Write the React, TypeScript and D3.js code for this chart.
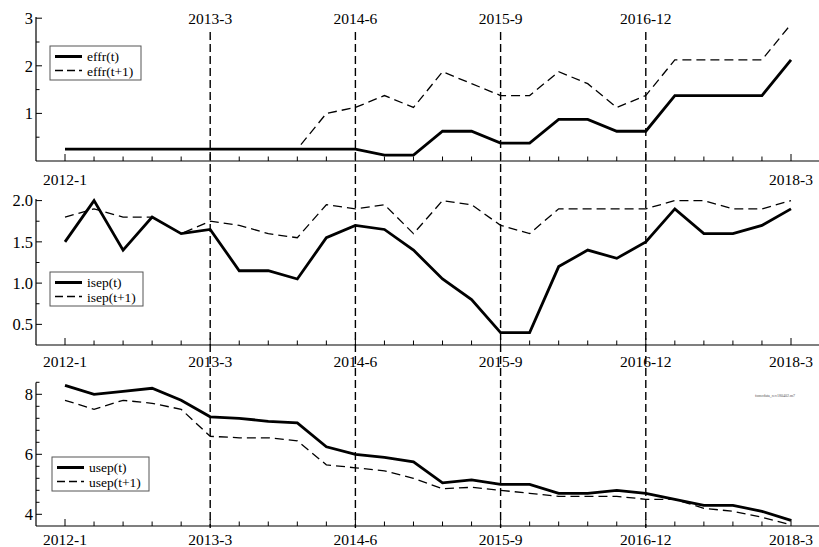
import React from "react";
import * as d3 from "d3";

// quarterly SEP dates (index positions on the x axis)
const dates = [
  "2012-1", "2012-4", "2012-6", "2012-9", "2012-12",
  "2013-3", "2013-6", "2013-9", "2013-12",
  "2014-3", "2014-6", "2014-9", "2014-12",
  "2015-3", "2015-6", "2015-9", "2015-12",
  "2016-3", "2016-6", "2016-9", "2016-12",
  "2017-3", "2017-6", "2017-9", "2017-12",
  "2018-3",
];
const markDates = ["2013-3", "2014-6", "2015-9", "2016-12"];
const endDates = ["2012-1", "2018-3"];

const effrT = [0.25, 0.25, 0.25, 0.25, 0.25, 0.25, 0.25, 0.25, 0.25, 0.25, 0.25, 0.125, 0.125,
  0.625, 0.625, 0.375, 0.375, 0.875, 0.875, 0.625, 0.625, 1.375, 1.375, 1.375, 1.375, 2.125];
const effrT1 = [0.25, 0.25, 0.25, 0.25, 0.25, 0.25, 0.25, 0.25, 0.25, 1.0, 1.125, 1.375, 1.125,
  1.875, 1.625, 1.375, 1.375, 1.875, 1.625, 1.125, 1.375, 2.125, 2.125, 2.125, 2.125, 2.875];

const isepT = [1.5, 2.0, 1.4, 1.8, 1.6, 1.65, 1.15, 1.15, 1.05, 1.55, 1.7, 1.65, 1.4,
  1.05, 0.8, 0.4, 0.4, 1.2, 1.4, 1.3, 1.5, 1.9, 1.6, 1.6, 1.7, 1.9];
const isepT1 = [1.8, 1.9, 1.8, 1.8, 1.6, 1.75, 1.7, 1.6, 1.55, 1.95, 1.9, 1.95, 1.6,
  2.0, 1.95, 1.7, 1.6, 1.9, 1.9, 1.9, 1.9, 2.0, 2.0, 1.9, 1.9, 2.0];

const usepT = [8.3, 8.0, 8.1, 8.2, 7.8, 7.25, 7.2, 7.1, 7.05, 6.25, 6.0, 5.9, 5.75,
  5.05, 5.15, 5.0, 5.0, 4.7, 4.7, 4.8, 4.7, 4.5, 4.3, 4.3, 4.1, 3.8];
const usepT1 = [7.8, 7.5, 7.8, 7.7, 7.5, 6.6, 6.55, 6.55, 6.45, 5.65, 5.55, 5.45, 5.2,
  4.85, 4.9, 4.8, 4.7, 4.6, 4.6, 4.6, 4.5, 4.5, 4.2, 4.1, 3.9, 3.65];

const effrTicks = [1, 2, 3];
const effrMinor = [0.5, 1.5, 2.5];
const isepTicks = [0.5, 1.0, 1.5, 2.0];
const isepMinor = [0.75, 1.25, 1.75];
const usepTicks = [4, 6, 8];
const usepMinor = [4.4, 4.8, 5.2, 5.6, 6.4, 6.8, 7.2, 7.6, 8.4];

const W = 819;
const H = 547;
const axisX = 36;
const FONT = "Liberation Serif, Times New Roman, serif";

const x = d3.scalePoint<string>().domain(dates).range([65, 791]);

type Panel = {
  name: string;
  t: number[];
  t1: number[];
  domain: [number, number];
  range: [number, number];
  top: number;
  bottom: number;
  ticks: number[];
  minor: number[];
  fmt: (v: number) => string;
  legend: { x: number; y: number; w: number };
  labelY: number;
  labels: string[];
};

const panels: Panel[] = [
  {
    name: "effr", t: effrT, t1: effrT1, domain: [0, 3], range: [161, 18.2], top: 17, bottom: 161,
    ticks: effrTicks, minor: effrMinor, fmt: d3.format("d"),
    legend: { x: 50, y: 46, w: 91 }, labelY: 185, labels: endDates,
  },
  {
    name: "isep", t: isepT, t1: isepT1, domain: [0.25, 2.0], range: [345, 200.6], top: 199, bottom: 345,
    ticks: isepTicks, minor: isepMinor, fmt: d3.format(".1f"),
    legend: { x: 50, y: 272, w: 93 }, labelY: 367, labels: dates.filter((d, i) => i % 5 === 0),
  },
  {
    name: "usep", t: usepT, t1: usepT1, domain: [4, 8], range: [514.3, 394.3], top: 382.6, bottom: 526,
    ticks: usepTicks, minor: usepMinor, fmt: d3.format("d"),
    legend: { x: 52, y: 457, w: 97 }, labelY: 545, labels: dates.filter((d, i) => i % 5 === 0),
  },
];

function PanelView({ p }: { p: Panel }) {
  const y = d3.scaleLinear().domain(p.domain).range(p.range);
  const bottom = p.bottom;
  const line = d3.line<number>().x((_, i) => x(dates[i]) as number).y((v) => y(v));
  const majorIdx = new Set(dates.filter((d, i) => i % 5 === 0));

  return (
    <g>
      {/* axes */}
      <line x1={axisX} x2={axisX} y1={p.top} y2={bottom} stroke="#000" strokeWidth={1.2} />
      <line x1={axisX} x2={W} y1={bottom} y2={bottom} stroke="#000" strokeWidth={1.2} />
      {dates.map((d) => (
        <line key={d} x1={x(d)} x2={x(d)} y1={bottom} y2={bottom - (majorIdx.has(d) ? 7 : 4.5)}
          stroke="#000" strokeWidth={1} />
      ))}
      {p.ticks.map((v) => (
        <g key={v}>
          <line x1={axisX} x2={axisX + 6} y1={y(v)} y2={y(v)} stroke="#000" strokeWidth={1} />
          <text x={33} y={y(v)} dy="0.35em" textAnchor="end" fontSize={16.5}>
            {p.fmt(v)}
          </text>
        </g>
      ))}
      {p.minor.map((v) => (
        <line key={v} x1={axisX} x2={axisX + 3.5} y1={y(v)} y2={y(v)} stroke="#000" strokeWidth={1} />
      ))}
      {p.labels.map((d) => (
        <text key={d} x={x(d)} y={p.labelY} textAnchor="middle" fontSize={15.5}>
          {d}
        </text>
      ))}

      {/* series */}
      <path d={line(p.t1) ?? ""} fill="none" stroke="#000" strokeWidth={1.3} strokeDasharray="9,5" />
      <path d={line(p.t) ?? ""} fill="none" stroke="#000" strokeWidth={2.8} />

      {/* legend */}
      <g transform={`translate(${p.legend.x},${p.legend.y})`}>
        <rect width={p.legend.w} height={34} fill="#fff" stroke="#555" strokeWidth={1} />
        <line x1={5} x2={32} y1={10.5} y2={10.5} stroke="#000" strokeWidth={3} />
        <line x1={5} x2={32} y1={24.5} y2={24.5} stroke="#000" strokeWidth={1.3} strokeDasharray="8,4" />
        <text x={37} y={15} fontSize={13.5}>{`${p.name}(t)`}</text>
        <text x={37} y={29.5} fontSize={13.5}>{`${p.name}(t+1)`}</text>
      </g>
    </g>
  );
}

export default function App() {
  return (
    <svg width={W} height={H} fontFamily={FONT}
      style={{ position: "absolute", left: 0, top: 0, background: "#fff" }}>
      {panels.map((p) => (
        <PanelView key={p.name} p={p} />
      ))}
      {markDates.map((d) => (
        <g key={d}>
          <line x1={x(d)} x2={x(d)} y1={32} y2={528} stroke="#000" strokeWidth={1.4} strokeDasharray="8,4" />
          <text x={x(d)} y={24} textAnchor="middle" fontSize={15.5}>{d}</text>
        </g>
      ))}
      <text x={775} y={397} textAnchor="middle" fontSize={4} fill="#555">
        fomcdata_rev180402.m7
      </text>
    </svg>
  );
}
